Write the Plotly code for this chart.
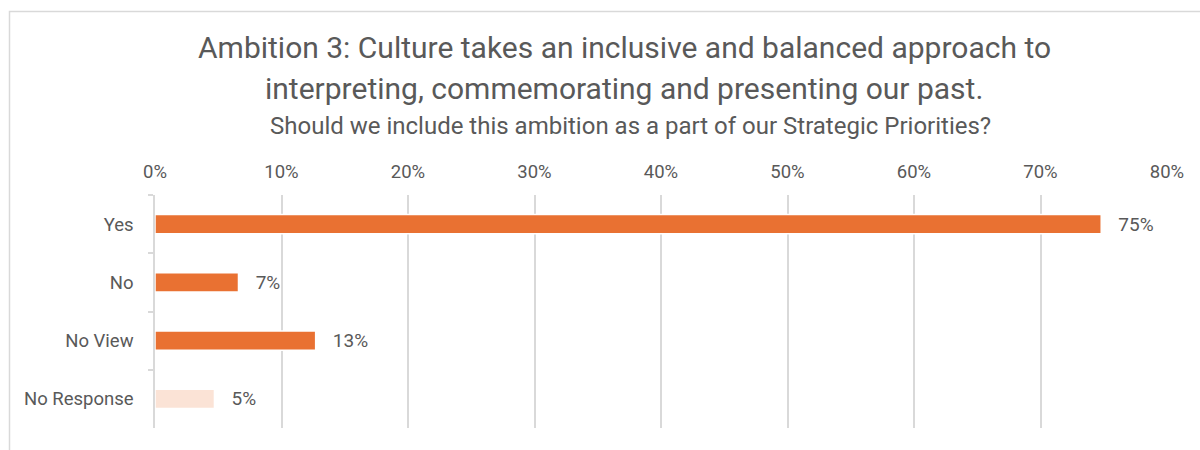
import plotly.graph_objects as go

categories = ["Yes", "No", "No View", "No Response"]
values = [0.748, 0.066, 0.127, 0.047]
bar_colors = ["#E97132", "#E97132", "#E97132", "#FBE3D6"]
x_ticks = [0, 0.1, 0.2, 0.3, 0.4, 0.5, 0.6, 0.7, 0.8]

title_line1 = "Ambition 3: Culture takes an inclusive and balanced approach to"
title_line2 = "interpreting, commemorating and presenting our past."
subtitle = "Should we include this ambition as a part of our Strategic Priorities?"

FONT = "Roboto"
GREY = "#595959"
GRID = "#d9d9d9"

WIDTH, HEIGHT = 1200, 450
L, R, T, B = 155, 33, 195, 22
PW, PH = WIDTH - L - R, HEIGHT - T - B


def px_x(px):
    return (px - L) / PW


def px_y(py):
    return (HEIGHT - B - py) / PH


fig = go.Figure()
fig.add_trace(go.Bar(
    y=categories,
    x=values,
    orientation="h",
    marker=dict(color=bar_colors, line=dict(color="white", width=1.5)),
    texttemplate="\u00a0\u00a0\u00a0%{x:.0%}",
    textposition="outside",
    constraintext="none",
    textfont=dict(family=FONT, size=19, color=GREY),
    cliponaxis=False,
    hoverinfo="skip",
))

fig.update_layout(
    width=WIDTH,
    height=HEIGHT,
    margin=dict(l=L, r=R, t=T, b=B),
    paper_bgcolor="white",
    plot_bgcolor="white",
    showlegend=False,
    bargap=0.67,
    font=dict(family=FONT, color=GREY),
    xaxis=dict(
        side="top",
        range=[0, 0.8],
        tickvals=x_ticks,
        tickformat=".0%",
        showgrid=True,
        gridcolor=GRID,
        gridwidth=1.5,
        zeroline=False,
        showline=False,
        ticks="",
        tickfont=dict(family=FONT, size=18.5, color=GREY),
        ticklabelstandoff=12,
        fixedrange=True,
    ),
    yaxis=dict(
        autorange="reversed",
        showline=True,
        linecolor=GRID,
        linewidth=1.5,
        ticks="outside",
        tickson="boundaries",
        ticklen=5,
        tickwidth=1.5,
        tickcolor=GRID,
        tickfont=dict(family=FONT, size=18.5, color=GREY),
        ticklabelstandoff=16,
        showgrid=False,
        fixedrange=True,
    ),
    annotations=[
        dict(text=title_line1, xref="paper", yref="paper",
             x=px_x(624), y=px_y(47), xanchor="center", yanchor="middle",
             showarrow=False, font=dict(family=FONT, size=30, color=GREY)),
        dict(text=title_line2, xref="paper", yref="paper",
             x=px_x(624), y=px_y(88), xanchor="center", yanchor="middle",
             showarrow=False, font=dict(family=FONT, size=30, color=GREY)),
        dict(text=subtitle, xref="paper", yref="paper",
             x=px_x(630), y=px_y(126), xanchor="center", yanchor="middle",
             showarrow=False, font=dict(family=FONT, size=24, color=GREY)),
    ],
    shapes=[
        dict(type="rect", xref="paper", yref="paper",
             x0=px_x(9.5), x1=px_x(1210), y0=px_y(11.5), y1=px_y(470),
             line=dict(color=GRID, width=1.5), fillcolor="rgba(0,0,0,0)",
             layer="below"),
    ],
)

fig.write_html("out.html")
